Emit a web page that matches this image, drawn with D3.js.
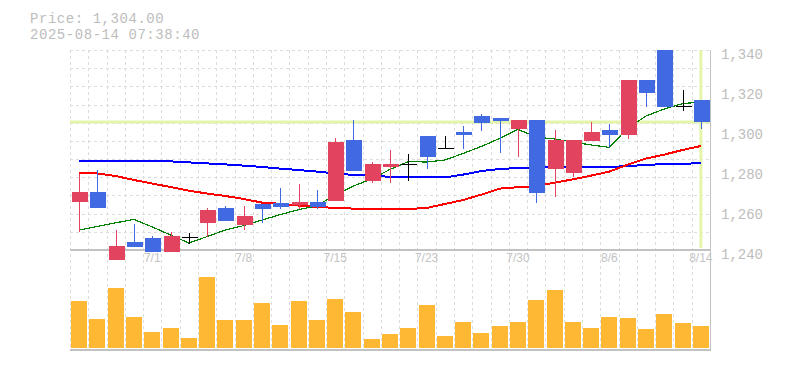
<!DOCTYPE html>
<html>
<head>
<meta charset="utf-8">
<script src="https://cdn.jsdelivr.net/npm/d3@7"></script>
<style>
	html, body { margin: 0; padding: 0; background: #fff; }
	svg { display: block; }
	.header { font-family: "Liberation Mono", monospace; font-size: 14px; letter-spacing: 0.55px; fill: #bdbdbd; }
	.yAxis text { font-family: "Liberation Mono", monospace; font-size: 14px; fill: #bdbdbd; }
	.xAxis text { font-family: "Liberation Sans", sans-serif; font-size: 12px; fill: #c4c4c4; }
</style>
</head>
<body>
<div id="chart"></div>
<script>
/* global d3 */

var dates = ["6/25", "6/26", "6/27", "6/30", "7/1", "7/2", "7/3", "7/4", "7/7", "7/8",
	"7/9", "7/10", "7/11", "7/14", "7/15", "7/16", "7/17", "7/18", "7/22", "7/23",
	"7/24", "7/25", "7/28", "7/29", "7/30", "7/31", "8/1", "8/4", "8/5", "8/6",
	"8/7", "8/8", "8/12", "8/13", "8/14"];

var opens = [1264, 1269, 1235, 1244, 1246, 1239, 1246.5, 1253.5, 1261, 1252.5,
	1263, 1263.5, 1262.5, 1264, 1264.5, 1295, 1274.5, 1281.5, 1283, 1297,
	1291, 1299, 1307, 1306, 1300.5, 1305, 1280.5, 1278.5, 1294.5, 1300,
	1297.5, 1325, 1340, 1312, 1315];
var highs = [1278, 1280, 1250, 1253, 1247, 1249, 1248.5, 1261, 1262, 1262,
	1263, 1271, 1273, 1270, 1296, 1305, 1284, 1290, 1288, 1297,
	1297, 1302, 1308, 1306, 1305, 1305, 1300, 1295, 1304, 1303,
	1325, 1325, 1340, 1320, 1315];
var lows = [1249, 1261, 1235, 1241.5, 1239, 1239, 1243, 1246.5, 1254.5, 1250,
	1253.5, 1260.5, 1260.5, 1260.5, 1264.5, 1279.5, 1273.5, 1273.5, 1274.5, 1280.5,
	1291, 1290.5, 1299.5, 1288.5, 1286.5, 1263.5, 1266.5, 1276.5, 1294.5, 1291.5,
	1295.5, 1311.5, 1311.5, 1309.5, 1300.5];
var closes = [1269, 1261, 1242, 1241.5, 1239, 1247, 1246.5, 1260, 1254.5, 1257,
	1260.5, 1261.5, 1264, 1261.5, 1294, 1279.5, 1283, 1283, 1283, 1286.5,
	1291, 1297.5, 1303.5, 1304.5, 1305, 1268.5, 1295, 1295, 1299, 1297.5,
	1325, 1318.5, 1311.5, 1312, 1304];

// moving averages
var ma5 = [1250, 1251.8, 1253.6, 1255.3, 1251.5, 1247.5, 1243.5, 1246.7, 1250, 1252.2,
	1255, 1257.7, 1260.2, 1262, 1267.5, 1272, 1275.5, 1280.3, 1284.2, 1284,
	1285, 1288.3, 1291.8, 1295.8, 1300.3, 1296.5, 1295.5, 1294, 1292.5, 1291.3,
	1301, 1307, 1310.5, 1313.2, 1314];
var ma25 = [1278.3, 1278.3, 1277, 1275, 1273.2, 1271.5, 1269.7, 1268.2, 1267, 1265.5,
	1263.7, 1263.1, 1262.2, 1261.5, 1261.1, 1260.7, 1260.5, 1260.5, 1260.5, 1261,
	1263, 1265, 1267.7, 1270.7, 1271.4, 1271.9, 1273.7, 1275.3, 1277.2, 1279.2,
	1282.7, 1285.7, 1287.7, 1290, 1292];
var ma75 = [1284.3, 1284.3, 1284.3, 1284.3, 1284.3, 1284.3, 1283.8, 1283.3, 1282.8, 1282.2,
	1281.5, 1280.7, 1280, 1279.2, 1278.3, 1277.5, 1277.1, 1276.6, 1276.3, 1276.3,
	1276.3, 1277.7, 1279.5, 1280.5, 1281, 1281.3, 1281.3, 1281.3, 1281.5, 1281.5,
	1282, 1282.5, 1283, 1283.2, 1283.3];

// volume, thousand shares
var volumes = [467, 287, 597, 307, 157, 197, 97, 710, 277, 277,
	447, 227, 467, 277, 487, 357, 87, 137, 197, 427,
	117, 257, 147, 217, 257, 477, 577, 257, 197, 307,
	297, 187, 337, 247, 217];

var xTickLabels = ["7/1", "7/8", "7/15", "7/23", "7/30", "8/6", "8/14"];
var yTickValues = [1240, 1260, 1280, 1300, 1320, 1340];

var lastPrice = 1304;
var timestamp = "2025-08-14 07:38:40";

(function() {
	'use strict';

	var width = 785,
		height = 370,
		left = 70,
		right = 710,
		priceTop = 50,
		priceBottom = 250,
		volBottom = 348,
		volTop = 268,
		upColor = "#e2435f",
		downColor = "#4169e1",
		gridColor = "#dcdcdc",
		axisColor = "#c2c2c2";

	var data = dates.map(function(d, i) {
		return { date: d, open: opens[i], high: highs[i], low: lows[i], close: closes[i],
			ma5: ma5[i], ma25: ma25[i], ma75: ma75[i], volume: volumes[i] };
	});

	var svg = d3.select("#chart").append("svg")
		.attr("width", width)
		.attr("height", height);

	var x = d3.scaleBand()
			.domain(dates)
			.range([left, right]),
		bw = x.bandwidth(),
		cx = function(d) { return x(d) + bw / 2; },
		y = d3.scaleLinear()
			.domain([1240, 1340])
			.range([priceBottom, priceTop]),
		yv = d3.scaleLinear()
			.domain([0, 800])
			.range([volBottom, volTop]);

	// grid
	var grid = svg.append("g")
		.attr("stroke", gridColor)
		.attr("stroke-dasharray", "3,3")
		.attr("shape-rendering", "crispEdges");

	d3.range(0, 35).forEach(function(k) {
		var gx = Math.round(left + k * bw) + 0.5;
		grid.append("line")
			.attr("x1", gx).attr("x2", gx)
			.attr("y1", priceTop).attr("y2", volBottom + 1);
	});
	d3.range(0, 11).forEach(function(k) {
		var gy = Math.round(priceTop + k * (priceBottom - priceTop) / 11) + 0.5;
		grid.append("line")
			.attr("x1", left).attr("x2", right)
			.attr("y1", gy).attr("y2", gy);
	});

	// borders
	var frame = svg.append("g")
		.attr("stroke", axisColor)
		.attr("stroke-width", 1.5)
		.attr("shape-rendering", "crispEdges");
	frame.append("line").attr("x1", left).attr("x2", right + 1).attr("y1", priceBottom).attr("y2", priceBottom);
	frame.append("line").attr("x1", left).attr("x2", right + 1).attr("y1", volBottom + 2).attr("y2", volBottom + 2);
	frame.append("line").attr("x1", right + 0.5).attr("x2", right + 0.5).attr("y1", priceTop).attr("y2", volBottom + 2);

	// current price marker
	var lastDate = dates[dates.length - 1];
	svg.append("line")
		.attr("x1", left).attr("x2", right)
		.attr("y1", y(lastPrice)).attr("y2", y(lastPrice))
		.attr("stroke", "#e4f4ab")
		.attr("stroke-width", 3);
	svg.append("line")
		.attr("x1", cx(lastDate)).attr("x2", cx(lastDate))
		.attr("y1", priceTop).attr("y2", priceBottom - 2)
		.attr("stroke", "#e4f4ab")
		.attr("stroke-width", 3);

	// volume
	svg.append("g").selectAll("rect")
		.data(data)
		.enter().append("rect")
		.attr("x", function(d) { return Math.round(cx(d.date) - 8); })
		.attr("width", 16)
		.attr("y", function(d) { return yv(d.volume); })
		.attr("height", function(d) { return volBottom - yv(d.volume); })
		.attr("fill", "#ffb833")
		.attr("shape-rendering", "crispEdges");

	// moving averages
	function maLine(key, color, w) {
		svg.append("path")
			.datum(data)
			.attr("fill", "none")
			.attr("stroke", color)
			.attr("stroke-width", w)
			.attr("shape-rendering", "crispEdges")
			.attr("d", d3.line()
				.x(function(d) { return cx(d.date); })
				.y(function(d) { return y(d[key]); }));
	}
	maLine("ma75", "#0000ff", 2);
	maLine("ma25", "#ff0000", 2);
	maLine("ma5", "#008000", 1.2);

	// candles
	var candle = svg.append("g")
		.attr("shape-rendering", "crispEdges")
		.selectAll("g")
		.data(data)
		.enter().append("g");

	function colorOf(d) {
		if (d.close > d.open) { return upColor; }
		if (d.close < d.open) { return downColor; }
		return "#000";
	}

	candle.append("line")
		.attr("x1", function(d) { return Math.round(cx(d.date)) + 0.5; })
		.attr("x2", function(d) { return Math.round(cx(d.date)) + 0.5; })
		.attr("y1", function(d) { return y(d.high); })
		.attr("y2", function(d) { return y(d.low); })
		.attr("stroke", colorOf)
		.attr("stroke-width", 1);

	candle.filter(function(d) { return d.close !== d.open; })
		.append("rect")
		.attr("x", function(d) { return Math.round(cx(d.date)) - 7.5; })
		.attr("width", 16)
		.attr("y", function(d) { return y(Math.max(d.open, d.close)); })
		.attr("height", function(d) { return Math.abs(y(d.open) - y(d.close)); })
		.attr("fill", colorOf);

	candle.filter(function(d) { return d.close === d.open; })
		.append("line")
		.attr("x1", function(d) { return Math.round(cx(d.date)) - 7.5; })
		.attr("x2", function(d) { return Math.round(cx(d.date)) + 8.5; })
		.attr("y1", function(d) { return Math.round(y(d.close)) + 0.5; })
		.attr("y2", function(d) { return Math.round(y(d.close)) + 0.5; })
		.attr("stroke", "#000")
		.attr("stroke-width", 1.5);

	// axes
	var yAxis = d3.axisRight(y)
		.tickValues(yTickValues)
		.tickFormat(d3.format(","))
		.tickSize(0)
		.tickPadding(11);
	svg.append("g")
		.attr("class", "yAxis")
		.attr("transform", "translate(" + right + ",0)")
		.call(yAxis)
		.call(function(g) { g.select(".domain").remove(); })
		.selectAll("text")
		.attr("dy", null)
		.attr("y", 8);

	var xAxis = d3.axisBottom(x)
		.tickValues(xTickLabels)
		.tickSize(0)
		.tickPadding(0);
	svg.append("g")
		.attr("class", "xAxis")
		.attr("transform", "translate(0," + (priceBottom + 3) + ")")
		.call(xAxis)
		.call(function(g) { g.select(".domain").remove(); })
		.selectAll("text")
		.attr("dy", "0.71em");

	// header
	svg.append("text")
		.attr("class", "header")
		.attr("x", 30)
		.attr("y", 22.5)
		.text("Price: " + d3.format(",.2f")(lastPrice));
	svg.append("text")
		.attr("class", "header")
		.attr("x", 30)
		.attr("y", 38.5)
		.text(timestamp);
})();
</script>
</body>
</html>
